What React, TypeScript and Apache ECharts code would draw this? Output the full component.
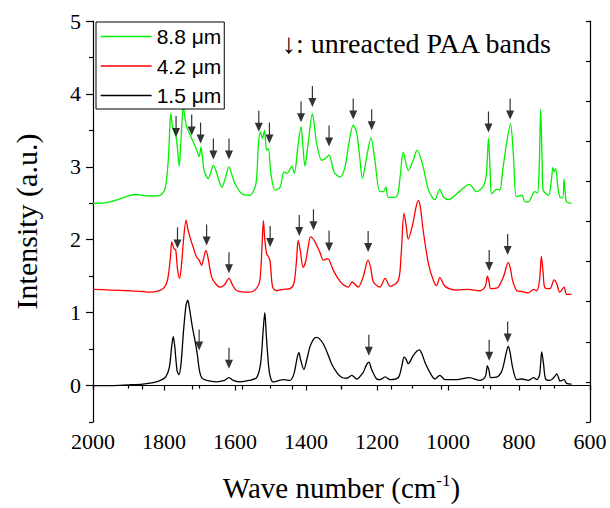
import React, { useEffect, useRef } from "react";
import * as echarts from "echarts";

// FTIR spectra: [wave number (cm-1), intensity (a.u.)]
const green88: number[][] = [
  [2000, 2.5], [1960, 2.51], [1930, 2.55], [1900, 2.6], [1880, 2.62], [1860, 2.61], [1840, 2.6], [1811, 2.61],
  [1797, 2.7], [1788, 3.09], [1784, 3.5], [1781, 3.73], [1776, 3.55], [1772, 3.5], [1766, 3.41], [1761, 3.2],
  [1757, 3.01], [1753, 3.3], [1750, 3.55], [1746, 3.85], [1742, 3.7], [1736, 3.55], [1722, 3.39], [1708, 3.23],
  [1701, 3.14], [1696, 3.27], [1691, 3.1], [1687, 2.95], [1675, 2.84], [1668, 2.93], [1661, 3.02], [1654, 2.95],
  [1647, 2.84], [1637, 2.72], [1627, 2.85], [1617, 3.0], [1608, 2.88], [1600, 2.77], [1581, 2.63], [1558, 2.61],
  [1541, 2.77], [1534, 3.32], [1528, 3.48], [1523, 3.39], [1517, 3.5], [1511, 3.23], [1506, 3.25], [1499, 2.91],
  [1487, 2.68], [1473, 2.72], [1462, 2.93], [1453, 2.91], [1440, 3.01], [1433, 2.91], [1423, 3.27], [1414, 3.55],
  [1409, 3.3], [1403, 3.01], [1394, 3.32], [1382, 3.73], [1376, 3.55], [1370, 3.32], [1356, 3.09], [1346, 3.11],
  [1335, 3.16], [1321, 2.93], [1304, 2.86], [1290, 3.0], [1280, 3.3], [1267, 3.57], [1257, 3.46], [1248, 3.1],
  [1241, 2.84], [1229, 3.14], [1217, 3.4], [1206, 3.09], [1192, 2.66], [1182, 2.66], [1175, 2.72], [1168, 2.58],
  [1145, 2.59], [1135, 2.86], [1126, 3.2], [1112, 2.95], [1098, 3.09], [1087, 3.23], [1070, 3.0], [1055, 2.68],
  [1037, 2.55], [1023, 2.69], [1013, 2.59], [999, 2.55], [966, 2.67], [940, 2.76], [919, 2.66], [901, 2.73],
  [892, 2.9], [886, 3.39], [881, 2.9], [877, 2.63], [863, 2.69], [854, 2.68], [846, 2.95], [835, 3.32],
  [824, 3.59], [816, 3.18], [807, 2.59], [792, 2.61], [783, 2.52], [774, 2.52], [761, 2.63], [755, 2.66],
  [748, 2.64], [743, 3.0], [739, 3.79], [735, 3.1], [732, 2.68], [717, 2.61], [708, 2.85], [705, 2.99],
  [701, 2.93], [697, 2.98], [690, 2.7], [685, 2.59], [677, 2.57], [673, 2.83], [669, 2.6], [666, 2.52], [652, 2.5],
];

const red42: number[][] = [
  [2000, 1.32], [1950, 1.31], [1900, 1.3], [1860, 1.29], [1840, 1.28], [1815, 1.3], [1800, 1.34], [1790, 1.45],
  [1782, 1.75], [1778, 1.97], [1772, 1.88], [1767, 1.86], [1762, 1.6], [1756, 1.47], [1750, 1.7], [1745, 2.0],
  [1738, 2.27], [1733, 2.15], [1727, 2.04], [1718, 1.9], [1708, 1.76], [1701, 1.72], [1694, 1.65], [1688, 1.75],
  [1682, 1.85], [1677, 1.78], [1666, 1.49], [1655, 1.4], [1642, 1.35], [1630, 1.38], [1617, 1.47], [1607, 1.38],
  [1595, 1.3], [1558, 1.28], [1540, 1.33], [1530, 1.44], [1524, 1.9], [1520, 2.26], [1516, 2.0], [1511, 1.81],
  [1505, 1.76], [1501, 1.7], [1494, 1.35], [1483, 1.3], [1464, 1.32], [1445, 1.33], [1434, 1.4], [1427, 1.7],
  [1422, 1.99], [1416, 1.85], [1408, 1.62], [1400, 1.72], [1394, 1.9], [1387, 2.04], [1377, 1.99], [1361, 1.83],
  [1351, 1.72], [1339, 1.74], [1323, 1.58], [1310, 1.47], [1299, 1.4], [1281, 1.35], [1270, 1.42], [1253, 1.35],
  [1239, 1.49], [1225, 1.72], [1218, 1.62], [1210, 1.42], [1192, 1.35], [1177, 1.47], [1163, 1.36], [1140, 1.44],
  [1132, 1.8], [1124, 2.36], [1118, 2.2], [1112, 2.01], [1100, 2.2], [1090, 2.45], [1084, 2.54], [1078, 2.45],
  [1070, 2.13], [1055, 1.67], [1041, 1.44], [1032, 1.37], [1023, 1.48], [1008, 1.36], [976, 1.31], [943, 1.32],
  [910, 1.3], [895, 1.36], [889, 1.5], [884, 1.42], [880, 1.33], [861, 1.34], [844, 1.49], [830, 1.69],
  [824, 1.6], [818, 1.44], [806, 1.3], [792, 1.29], [774, 1.27], [759, 1.32], [750, 1.3], [742, 1.45],
  [737, 1.77], [732, 1.55], [727, 1.34], [713, 1.33], [701, 1.45], [694, 1.4], [685, 1.28], [673, 1.35],
  [666, 1.25], [652, 1.25],
];

const black15: number[][] = [
  [2000, 0.0], [1950, 0.0], [1900, 0.01], [1860, 0.02], [1830, 0.04], [1810, 0.07], [1795, 0.12], [1785, 0.25],
  [1778, 0.55], [1774, 0.67], [1770, 0.55], [1763, 0.2], [1758, 0.15], [1752, 0.3], [1745, 0.75], [1738, 1.1],
  [1733, 1.17], [1728, 1.05], [1720, 0.8], [1712, 0.6], [1706, 0.42], [1700, 0.2], [1694, 0.11], [1680, 0.07],
  [1652, 0.05], [1630, 0.07], [1617, 0.11], [1605, 0.07], [1586, 0.05], [1560, 0.07], [1539, 0.11], [1528, 0.3],
  [1520, 0.8], [1516, 1.0], [1512, 0.7], [1505, 0.25], [1500, 0.11], [1493, 0.05], [1475, 0.07], [1464, 0.08],
  [1445, 0.07], [1434, 0.16], [1425, 0.38], [1420, 0.45], [1415, 0.35], [1406, 0.22], [1398, 0.35], [1389, 0.53],
  [1378, 0.64], [1370, 0.66], [1362, 0.64], [1351, 0.57], [1340, 0.45], [1328, 0.3], [1312, 0.17], [1299, 0.11],
  [1285, 0.1], [1271, 0.14], [1257, 0.09], [1239, 0.18], [1230, 0.28], [1223, 0.32], [1215, 0.22], [1201, 0.09],
  [1192, 0.08], [1177, 0.12], [1163, 0.08], [1140, 0.11], [1130, 0.27], [1124, 0.39], [1118, 0.36], [1112, 0.3],
  [1098, 0.41], [1088, 0.47], [1081, 0.49], [1073, 0.43], [1065, 0.32], [1051, 0.18], [1037, 0.09], [1023, 0.14],
  [1008, 0.08], [976, 0.08], [940, 0.11], [910, 0.07], [895, 0.12], [889, 0.27], [884, 0.2], [880, 0.11],
  [861, 0.12], [850, 0.18], [844, 0.27], [836, 0.45], [830, 0.54], [825, 0.45], [818, 0.25], [806, 0.08],
  [792, 0.09], [774, 0.07], [759, 0.11], [750, 0.08], [742, 0.15], [736, 0.46], [731, 0.3], [725, 0.09],
  [713, 0.07], [700, 0.12], [694, 0.16], [688, 0.1], [685, 0.06], [673, 0.08], [666, 0.03], [652, 0.02],
];

// arrow tips marking unreacted PAA bands: [wave number, intensity at arrow tip]
const greenArrows: number[][] = [
  [1766, 3.41], [1722, 3.43], [1697, 3.32], [1661, 3.1], [1617, 3.1], [1533, 3.48], [1503, 3.32],
  [1414, 3.61], [1382, 3.82], [1335, 3.28], [1267, 3.65], [1215, 3.5], [886, 3.47], [825, 3.65],
];
const redArrows: number[][] = [
  [1762, 1.88], [1680, 1.92], [1617, 1.54], [1501, 1.9], [1419, 2.05], [1379, 2.13], [1335, 1.84],
  [1225, 1.83], [884, 1.57], [832, 1.79],
];
const blackArrows: number[][] = [
  [1701, 0.48], [1617, 0.23], [1223, 0.41], [884, 0.34], [832, 0.59],
];

const seriesNames = ["8.8 \u03bcm", "4.2 \u03bcm", "1.5 \u03bcm"];
const seriesColors = ["#00f000", "#ff0000", "#000000"];
const yLabelValues = [0, 1, 2, 3, 4, 5];
const yMinorValues = [-0.5, 0.5, 1.5, 2.5, 3.5, 4.5];

const SERIF = "Liberation Serif";
const SANS = "Liberation Sans";
const ARROW = "path://M3.4,0 L4.6,0 L4.6,12 L8,12 L4,21 L0,12 L3.4,12 Z";

export default function App() {
  const ref = useRef<HTMLDivElement>(null);
  useEffect(() => {
    if (!ref.current) return;
    const chart = echarts.init(ref.current, null, { renderer: "svg" });
    const axisLine = { show: true, lineStyle: { color: "#000", width: 1.2 } };
    chart.setOption({
      animation: false,
      backgroundColor: "#fff",
      grid: { left: 93, right: 20, top: 21, bottom: 86, containLabel: false },
      legend: {
        orient: "vertical",
        left: 96,
        top: 22,
        data: seriesNames,
        itemWidth: 51,
        itemHeight: 20,
        itemGap: 8.5,
        padding: [4, 3, 3, 4],
        borderColor: "#000",
        borderWidth: 1,
        backgroundColor: "#fff",
        borderRadius: 0,
        selectedMode: false,
        itemStyle: { opacity: 0 },
        lineStyle: { width: 1.3 },
        textStyle: { fontFamily: SANS, fontSize: 21, color: "#000", lineHeight: 20 },
        z: 10,
      },
      graphic: [
        {
          type: "text",
          left: 282,
          top: 29,
          z: 20,
          style: { text: "\u2193: unreacted PAA bands", fontFamily: SERIF, fontSize: 28, fill: "#000" },
        },
      ],
      xAxis: [
        {
          type: "value",
          position: "bottom",
          inverse: true,
          min: 600,
          max: 2000,
          interval: 200,
          axisLine,
          axisTick: { show: true, inside: false, length: 5, lineStyle: { color: "#000", width: 1.2 } },
          minorTick: { show: true, splitNumber: 2, length: 3, lineStyle: { color: "#000", width: 1.2 } },
          splitLine: { show: false },
          minorSplitLine: { show: false },
          axisLabel: { color: "#000", fontFamily: SERIF, fontSize: 22, margin: 8, formatter: (v: number) => String(v) },
          name: "{a|Wave number (cm}{s|-1}{a|)}",
          nameLocation: "middle",
          nameGap: 50,
          nameTextStyle: {
            rich: {
              a: { fontFamily: SERIF, fontSize: 29, color: "#000", lineHeight: 32 },
              s: { fontFamily: SERIF, fontSize: 17, color: "#000", verticalAlign: "top", lineHeight: 32, padding: [0, 0, 14, 0] },
            },
          },
        },
        {
          type: "value",
          position: "top",
          min: 0,
          max: 10,
          interval: 1,
          axisLine,
          axisTick: { show: true, inside: true, length: 4, lineStyle: { color: "#000", width: 1.2 } },
          axisLabel: { show: false },
          splitLine: { show: false },
        },
      ],
      yAxis: [
        {
          type: "value",
          position: "left",
          min: -0.5,
          max: 5,
          axisLine,
          axisTick: { show: true, inside: false, length: 7, customValues: yLabelValues, lineStyle: { color: "#000", width: 1.2 } },
          axisLabel: { color: "#000", fontFamily: SERIF, fontSize: 22, margin: 12, customValues: yLabelValues, formatter: (v: number) => String(v) },
          splitLine: { show: false },
          name: "Intensity (a.u.)",
          nameLocation: "middle",
          nameGap: 52,
          nameTextStyle: { fontFamily: SERIF, fontSize: 30, color: "#000" },
        },
        {
          type: "value",
          position: "left",
          min: -0.5,
          max: 5,
          axisLine: { show: false },
          axisTick: { show: true, inside: false, length: 4, customValues: yMinorValues, lineStyle: { color: "#000", width: 1.2 } },
          axisLabel: { show: false },
          splitLine: { show: false },
        },
        {
          type: "value",
          position: "right",
          min: 0,
          max: 10,
          interval: 1,
          axisLine,
          axisTick: { show: true, inside: true, length: 4, lineStyle: { color: "#000", width: 1.2 } },
          axisLabel: { show: false },
          splitLine: { show: false },
        },
      ],
      series: [
        ...[green88, red42, black15].map((d, i) => ({
          name: seriesNames[i],
          type: "line",
          data: d,
          xAxisIndex: 0,
          yAxisIndex: 0,
          symbol: "none",
          smooth: 0.3,
          lineStyle: { color: seriesColors[i], width: 1.3 },
          itemStyle: { color: seriesColors[i] },
          z: 3 - i,
        })),
        {
          name: "arrows",
          type: "scatter",
          xAxisIndex: 0,
          yAxisIndex: 0,
          data: [...greenArrows, ...redArrows, ...blackArrows],
          symbol: ARROW,
          symbolSize: [8, 21],
          symbolOffset: [0, "-50%"],
          itemStyle: { color: "#000" },
          silent: true,
          z: 5,
        },
      ],
    });
    return () => chart.dispose();
  }, []);
  return <div ref={ref} style={{ width: 610, height: 508, position: "absolute", left: 0, top: 0 }} />;
}
